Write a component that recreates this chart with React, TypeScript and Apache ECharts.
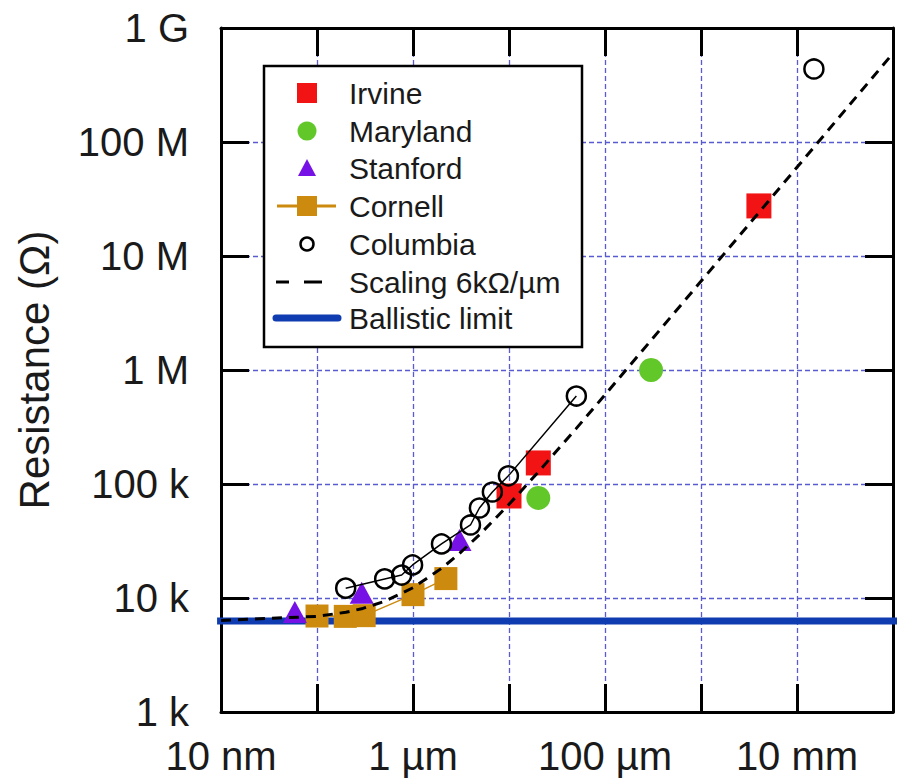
import React, { useEffect, useRef } from "react";
import * as echarts from "echarts";

// Lengths in metres, resistances in ohms
const irvineL = [1.0e-5, 2.02e-5, 4.01e-3];
const irvineR = [7.85e4, 1.53e5, 2.75e7];

const marylandL = [2.02e-5, 3.02e-4];
const marylandR = [7.54e4, 1.0e6];

const stanfordL = [5.88e-8, 2.92e-7, 3.05e-6];
const stanfordR = [7.54e3, 1.11e4, 3.23e4];

const cornellL = [1.0e-7, 1.97e-7, 3.1e-7, 1.0e-6, 2.2e-6];
const cornellR = [6.95e3, 6.9e3, 7.0e3, 1.07e4, 1.48e4];

const columbiaL = [1.99e-7, 5.07e-7, 7.62e-7, 9.9e-7, 1.98e-6, 3.97e-6, 4.92e-6, 6.71e-6, 9.86e-6, 5.03e-5];
const columbiaR = [1.22e4, 1.47e4, 1.59e4, 1.95e4, 2.98e4, 4.37e4, 6.16e4, 8.51e4, 1.18e5, 5.91e5];
const columbiaLoneL = [1.5e-2];
const columbiaLoneR = [4.37e8];

const scalingL = [1e-8, 1e-7, 2e-7, 3e-7, 5e-7, 1e-6, 2e-6, 3e-6, 5e-6, 1e-5, 2e-5, 5e-5, 1e-4, 1e-3, 1e-2, 1e-1];
const scalingR = [6.36e3, 6.9e3, 7.5e3, 8.1e3, 9.3e3, 1.23e4, 1.83e4, 2.43e4, 3.63e4, 6.63e4, 1.263e5, 3.06e5, 6.06e5, 6.0e6, 6.0e7, 6.0e8];

const ballisticL = [9.1e-9, 1.12e-1];
const ballisticR = [6.3e3, 6.3e3];

const xTickExps = [-8, -6, -4, -2];
const xTickLabels = ["10 nm", "1 µm", "100 µm", "10 mm"];
const yTickExps = [3, 4, 5, 6, 7, 8, 9];
const yTickLabels = ["1 k", "10 k", "100 k", "1 M", "10 M", "100 M", "1 G"];

const legendNames = ["Irvine", "Maryland", "Stanford", "Cornell", "Columbia", "Scaling 6kΩ/µm", "Ballistic limit"];

const C = {
  irvine: "#f21414",
  maryland: "#62c82a",
  stanford: "#7612e6",
  cornell: "#cc8a0e",
  ballistic: "#0f3cb0",
  grid: "#5a5ad2",
  text: "#1a1a1a",
};

const zip = (a: number[], b: number[]) => a.map((v, i) => [v, b[i]]);
const FONT = "Liberation Sans, Arial, sans-serif";

function legendGraphic() {
  const bx = 264, by = 66, bw = 318, bh = 281;
  const rows = [93, 131, 168, 206, 244, 282, 318];
  const ix = 307, tx = 349;
  const els: any[] = [
    { type: "rect", shape: { x: bx, y: by, width: bw, height: bh }, style: { fill: "#fff", stroke: "#000", lineWidth: 2.5 }, z: 100 },
  ];
  const icons: any[][] = [
    [{ type: "rect", shape: { x: ix - 10, y: rows[0] - 10, width: 20, height: 20 }, style: { fill: C.irvine } }],
    [{ type: "circle", shape: { cx: ix, cy: rows[1], r: 9.5 }, style: { fill: C.maryland } }],
    [{ type: "polygon", shape: { points: [[ix, rows[2] - 9], [ix + 9, rows[2] + 8], [ix - 9, rows[2] + 8]] }, style: { fill: C.stanford } }],
    [
      { type: "line", shape: { x1: ix - 30, y1: rows[3], x2: ix + 29, y2: rows[3] }, style: { stroke: C.cornell, lineWidth: 3 } },
      { type: "rect", shape: { x: ix - 10, y: rows[3] - 10, width: 20, height: 20 }, style: { fill: C.cornell } },
    ],
    [{ type: "circle", shape: { cx: ix, cy: rows[4], r: 6.5 }, style: { fill: "none", stroke: "#000", lineWidth: 2.5 } }],
    [
      { type: "line", shape: { x1: ix - 31, y1: rows[5], x2: ix - 18, y2: rows[5] }, style: { stroke: "#000", lineWidth: 3 } },
      { type: "line", shape: { x1: ix - 3, y1: rows[5], x2: ix + 15, y2: rows[5] }, style: { stroke: "#000", lineWidth: 3 } },
    ],
    [{ type: "line", shape: { x1: ix - 31, y1: rows[6], x2: ix + 31, y2: rows[6] }, style: { stroke: C.ballistic, lineWidth: 7, lineCap: "round" } }],
  ];
  legendNames.forEach((name, i) => {
    icons[i].forEach((el) => els.push({ ...el, z: 101 }));
    els.push({
      type: "text",
      x: tx,
      y: rows[i],
      style: { text: name, fill: C.text, font: `30px ${FONT}`, verticalAlign: "middle", align: "left" },
      z: 101,
    });
  });
  return els;
}

export default function App() {
  const ref = useRef<HTMLDivElement>(null);
  useEffect(() => {
    if (!ref.current) return;
    const chart = echarts.init(ref.current, undefined, { renderer: "svg" });
    const axisLine = { show: true, lineStyle: { color: "#000", width: 3 } };
    const axisTick = { show: true, inside: true, length: 28, lineStyle: { color: "#000", width: 3 } };
    const splitLine = { show: true, lineStyle: { color: C.grid, width: 1.3, type: [5, 3] } };
    const xFmt = (v: number) => {
      const e = Math.round(Math.log10(v));
      const i = xTickExps.indexOf(e);
      return i >= 0 ? xTickLabels[i] : "";
    };
    const yFmt = (v: number) => {
      const e = Math.round(Math.log10(v));
      const i = yTickExps.indexOf(e);
      return i >= 0 ? yTickLabels[i] : "";
    };
    const hollow = { color: "rgba(0,0,0,0)", borderColor: "#000", borderWidth: 2.5 };
    chart.setOption({
      animation: false,
      textStyle: { fontFamily: FONT },
      grid: { left: 221, right: 5, top: 28, bottom: 66 },
      xAxis: [
        {
          type: "log", logBase: 10, min: 1e-8, max: 1e-1, splitNumber: 7,
          axisLine, axisTick, splitLine,
          axisLabel: { formatter: xFmt, fontSize: 40, color: C.text, margin: 24, fontFamily: FONT },
        },
        {
          type: "log", logBase: 10, min: 1e-8, max: 1e-1, splitNumber: 7, position: "top",
          axisLine, axisTick, splitLine: { show: false }, axisLabel: { show: false },
        },
      ],
      yAxis: [
        {
          type: "log", logBase: 10, min: 1e3, max: 1e9, splitNumber: 6,
          axisLine, axisTick, splitLine,
          axisLabel: { formatter: yFmt, fontSize: 40, color: C.text, margin: 32, fontFamily: FONT },
          name: "Resistance (Ω)", nameLocation: "middle", nameGap: 166,
          nameTextStyle: { fontSize: 42, color: C.text, fontFamily: FONT },
        },
        {
          type: "log", logBase: 10, min: 1e3, max: 1e9, splitNumber: 6, position: "right",
          axisLine, axisTick, splitLine: { show: false }, axisLabel: { show: false },
        },
      ],
      series: [
        {
          name: "Ballistic limit", type: "line", data: zip(ballisticL, ballisticR), symbol: "none", clip: false,
          lineStyle: { color: C.ballistic, width: 7 }, z: 2,
        },
        {
          name: "Cornell", type: "line", data: zip(cornellL, cornellR), symbol: "rect", symbolSize: 23,
          itemStyle: { color: C.cornell }, lineStyle: { color: C.cornell, width: 1.5 }, z: 3,
        },
        { name: "Stanford", type: "scatter", data: zip(stanfordL, stanfordR), symbol: "triangle", symbolSize: [24, 22], itemStyle: { color: C.stanford, opacity: 1 }, z: 4 },
        { name: "Maryland", type: "scatter", data: zip(marylandL, marylandR), symbol: "circle", symbolSize: 24, itemStyle: { color: C.maryland, opacity: 1 }, z: 4 },
        { name: "Irvine", type: "scatter", data: zip(irvineL, irvineR), symbol: "rect", symbolSize: 25, itemStyle: { color: C.irvine, opacity: 1 }, z: 4 },
        {
          name: "Columbia", type: "line", data: zip(columbiaL, columbiaR), symbol: "circle", symbolSize: 19, showSymbol: true,
          itemStyle: hollow, lineStyle: { color: "#000", width: 1.5 }, z: 5,
        },
        { name: "Columbia", type: "scatter", data: zip(columbiaLoneL, columbiaLoneR), symbol: "circle", symbolSize: 19, itemStyle: { ...hollow, opacity: 1 }, z: 5 },
        {
          name: "Scaling 6kΩ/µm", type: "line", data: zip(scalingL, scalingR), symbol: "none",
          lineStyle: { color: "#000", width: 3, type: [10, 7] }, z: 6,
        },
      ],
      graphic: legendGraphic(),
    });
    return () => chart.dispose();
  }, []);
  return <div ref={ref} style={{ position: "fixed", left: 0, top: 0, width: 898, height: 778, background: "#fff" }} />;
}
